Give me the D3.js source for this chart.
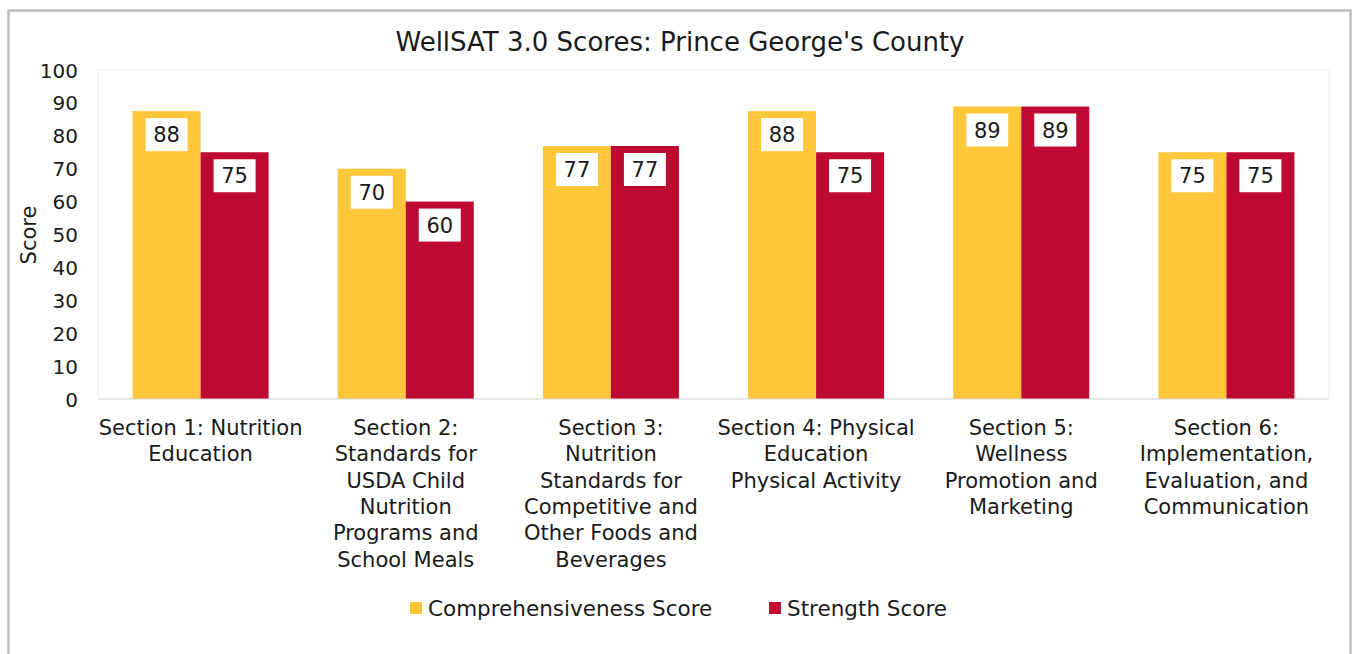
<!DOCTYPE html>
<html>
<head>
<meta charset="utf-8">
<script src="https://cdn.jsdelivr.net/npm/d3@7"></script>
<style>
  body { margin: 0; background: #fff; }
  svg text { font-family: "DejaVu Sans", "Open Sans", sans-serif; fill: #1a1a1a; }
</style>
</head>
<body>
<svg id="chart" width="1353" height="654"></svg>
<script>
// Chart data
const categories = [
    "Section 1: Nutrition\nEducation",
    "Section 2:\nStandards for\nUSDA Child\nNutrition\nPrograms and\nSchool Meals",
    "Section 3:\nNutrition\nStandards for\nCompetitive and\nOther Foods and\nBeverages",
    "Section 4: Physical\nEducation\nPhysical Activity",
    "Section 5:\nWellness\nPromotion and\nMarketing",
    "Section 6:\nImplementation,\nEvaluation, and\nCommunication"
];
const seriesNames = ["Comprehensiveness Score", "Strength Score"];
const comprehensiveness = [87.5, 70, 76.9, 87.5, 88.9, 75];
const strength = [75, 60, 76.9, 75, 88.9, 75];
const yTicks = [0, 10, 20, 30, 40, 50, 60, 70, 80, 90, 100];
const seriesColors = ["#fec639", "#be0a32"];

const svg = d3.select("#chart"),
    width = +svg.attr("width"),
    height = +svg.attr("height");

const margin = { left: 98, right: 24, top: 70, bottom: 255 };
const plotW = width - margin.left - margin.right,
    plotH = height - margin.top - margin.bottom;

// outer frame (bottom edge runs off the picture)
svg.append("rect")
   .attr("x", 8.5).attr("y", 10.5)
   .attr("width", 1342).attr("height", 700)
   .attr("fill", "none")
   .attr("stroke", "#bfbfbf")
   .attr("stroke-width", 2.5);

// plot area outline
svg.append("rect")
   .attr("x", margin.left).attr("y", margin.top)
   .attr("width", plotW).attr("height", plotH)
   .attr("fill", "none")
   .attr("stroke", "#efefef");

const x = d3.scaleBand()
            .domain(categories)
            .range([margin.left, margin.left + plotW])
            .paddingInner(0.337)
            .paddingOuter(0.1685);

const xSub = d3.scaleBand()
               .domain(seriesNames)
               .range([0, x.bandwidth()]);

const y = d3.scaleLinear()
            .domain([0, 100])
            .range([margin.top + plotH, margin.top]);

const color = d3.scaleOrdinal().domain(seriesNames).range(seriesColors);

// Title
svg.append("text")
   .attr("x", 680).attr("y", 51)
   .attr("text-anchor", "middle")
   .style("font-size", "26px")
   .text("WellSAT 3.0 Scores: Prince George's County");

// Y axis (labels only)
const yAxis = svg.append("g")
   .attr("transform", `translate(${margin.left - 20},0)`)
   .call(d3.axisLeft(y).tickValues(yTicks).tickSize(0).tickPadding(0));
yAxis.select(".domain").remove();
yAxis.selectAll("text")
     .style("font-size", "20px")
     .style("font-family", "'DejaVu Sans', sans-serif")
     .attr("fill", "#1a1a1a")
     .attr("dy", "0.35em");

svg.append("text")
   .attr("transform", "translate(36,235) rotate(-90)")
   .attr("text-anchor", "middle")
   .style("font-size", "21px")
   .text("Score");

// Bars
const rows = categories.map((c, i) => ({
    cat: c,
    values: [
        { s: seriesNames[0], v: comprehensiveness[i] },
        { s: seriesNames[1], v: strength[i] }
    ]
}));

const groups = svg.append("g")
   .selectAll("g")
   .data(rows)
   .join("g")
   .attr("transform", d => `translate(${x(d.cat)},0)`);

groups.selectAll("rect.bar")
   .data(d => d.values)
   .join("rect")
   .attr("class", "bar")
   .attr("x", d => xSub(d.s))
   .attr("y", d => y(d.v))
   .attr("width", xSub.bandwidth())
   .attr("height", d => y(0) - y(d.v))
   .attr("fill", d => color(d.s));

// Data labels in white boxes
const lab = groups.selectAll("g.lab")
   .data(d => d.values)
   .join("g")
   .attr("class", "lab")
   .attr("transform", d => `translate(${xSub(d.s) + xSub.bandwidth() / 2},${y(d.v) + 7})`);
lab.append("rect")
   .attr("x", -21).attr("y", 0)
   .attr("width", 42).attr("height", 33)
   .attr("fill", "#fff");
lab.append("text")
   .attr("y", 16.5).attr("dy", "0.36em")
   .attr("text-anchor", "middle")
   .style("font-size", "21px")
   .text(d => Math.round(d.v));

// Baseline
svg.append("line")
   .attr("x1", margin.left).attr("x2", margin.left + plotW)
   .attr("y1", y(0)).attr("y2", y(0))
   .attr("stroke", "#d9d9d9");

// X category labels
const xAxis = svg.append("g")
   .attr("transform", `translate(0,${y(0)})`)
   .call(d3.axisBottom(x).tickSize(0).tickFormat(""));
xAxis.select(".domain").remove();
xAxis.selectAll(".tick").each(function (d) {
    const t = d3.select(this).append("text")
        .attr("text-anchor", "middle")
        .attr("fill", "#1a1a1a")
        .style("font-family", "'DejaVu Sans', sans-serif")
        .style("font-size", "21px");
    d.split("\n").forEach((line, i) => {
        t.append("tspan").attr("x", 0).attr("y", 36 + i * 26.3).text(line);
    });
});

// Legend
const legendX = [410, 769];
const legend = svg.append("g")
   .selectAll("g")
   .data(seriesNames)
   .join("g")
   .attr("transform", (d, i) => `translate(${legendX[i]},602)`);
legend.append("rect")
   .attr("width", 12).attr("height", 12)
   .attr("fill", d => color(d));
legend.append("text")
   .attr("x", 18).attr("y", 6).attr("dy", "0.36em")
   .style("font-size", "21.5px")
   .text(d => d);
</script>
</body>
</html>
